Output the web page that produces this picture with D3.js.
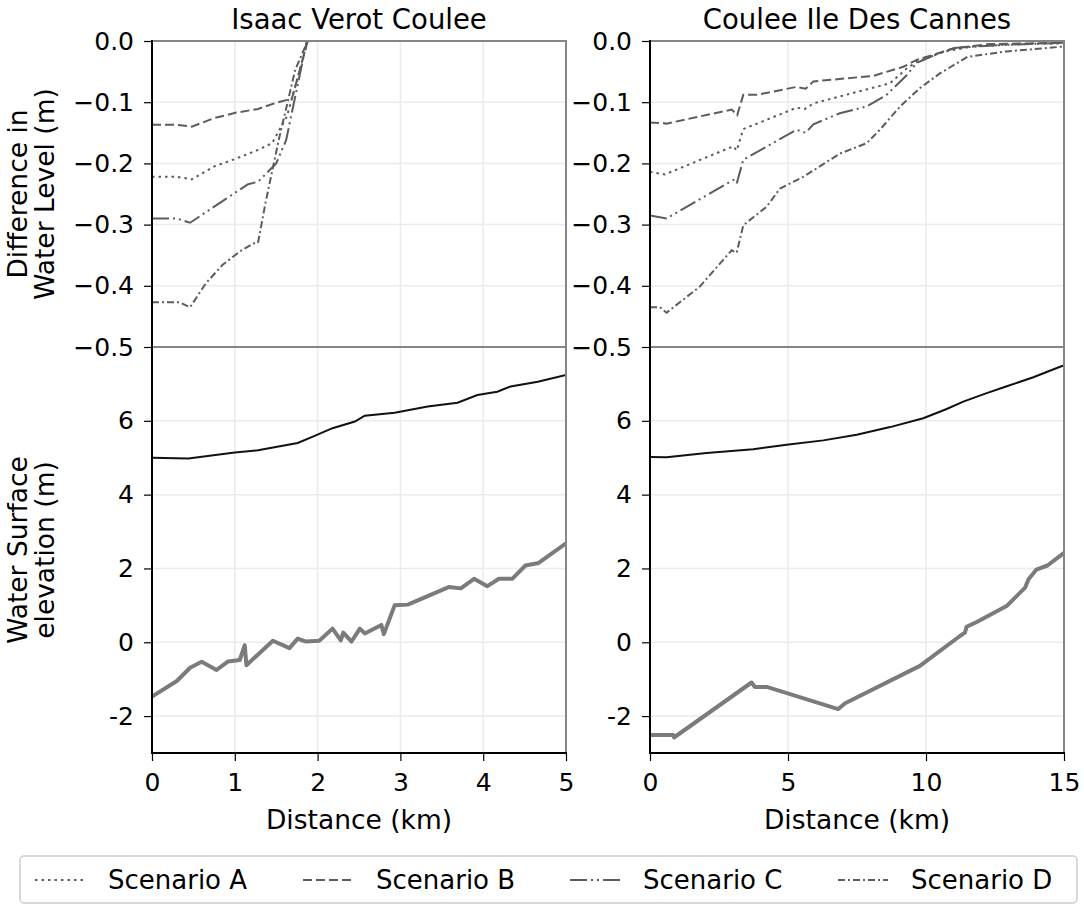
<!DOCTYPE html>
<html>
<head>
<meta charset="utf-8">
<script src="https://cdn.jsdelivr.net/npm/d3@7"></script>
<style>
    body { margin: 0; background: #fff; }
    text { font-family: "DejaVu Sans", sans-serif; fill: #000; }
</style>
</head>
<body>
<div id="chart"></div>
<script>
// panel titles and legend entries
const panelTitles = ["Isaac Verot Coulee", "Coulee Ile Des Cannes"];
const scenarioNames = ["Scenario A", "Scenario B", "Scenario C", "Scenario D"];

// tick values
const diffTicks = [0.0, -0.1, -0.2, -0.3, -0.4, -0.5];
const elevTicks = [-2, 0, 2, 4, 6];
const isaacDistTicks = [0, 1, 2, 3, 4, 5];
const canneDistTicks = [0, 5, 10, 15];

// Isaac Verot Coulee - difference in water level (distance km, metres)
const isaacDiffA = [[0, -0.222], [0.3, -0.222], [0.48, -0.226], [0.75, -0.205], [1.02, -0.192], [1.28, -0.178], [1.45, -0.167], [1.63, -0.123], [1.76, -0.06], [1.88, 0]];
const isaacDiffB = [[0, -0.137], [0.3, -0.137], [0.48, -0.140], [0.75, -0.126], [1.02, -0.117], [1.28, -0.111], [1.5, -0.101], [1.69, -0.094], [1.88, 0]];
const isaacDiffC = [[0, -0.290], [0.3, -0.290], [0.46, -0.297], [0.87, -0.260], [1.16, -0.234], [1.28, -0.230], [1.5, -0.200], [1.62, -0.162], [1.87, 0]];
const isaacDiffD = [[0, -0.427], [0.33, -0.427], [0.46, -0.435], [0.65, -0.396], [0.85, -0.366], [1.06, -0.344], [1.22, -0.331], [1.28, -0.330], [1.37, -0.265], [1.53, -0.162], [1.73, -0.047], [1.88, 0]];

// Coulee Ile Des Cannes - difference in water level
const canneDiffA = [[0, -0.214], [0.54, -0.218], [3.02, -0.172], [3.14, -0.179], [3.38, -0.144], [5.31, -0.109], [5.62, -0.111], [5.92, -0.102], [8.7, -0.069], [9.3, -0.045], [9.66, -0.034], [10.7, -0.017], [11.7, -0.009], [13.5, -0.005], [15, -0.004]];
const canneDiffB = [[0, -0.133], [0.6, -0.135], [2.96, -0.112], [3.16, -0.121], [3.38, -0.088], [3.86, -0.088], [5.31, -0.075], [5.64, -0.078], [5.92, -0.066], [8.09, -0.057], [9.18, -0.042], [9.66, -0.031], [11.0, -0.012], [12.3, -0.005], [15, -0.003]];
const canneDiffC = [[0, -0.285], [0.6, -0.290], [3.02, -0.227], [3.14, -0.233], [3.38, -0.194], [5.31, -0.145], [5.64, -0.150], [5.92, -0.136], [6.88, -0.118], [7.85, -0.107], [8.57, -0.088], [9.3, -0.056], [9.66, -0.036], [10.5, -0.019], [11.1, -0.011], [13.0, -0.006], [15, -0.003]];
const canneDiffD = [[0, -0.435], [0.36, -0.435], [0.6, -0.444], [1.81, -0.401], [2.96, -0.342], [3.14, -0.346], [3.38, -0.301], [4.22, -0.271], [4.71, -0.241], [5.55, -0.222], [6.88, -0.184], [7.85, -0.167], [8.33, -0.145], [9.06, -0.107], [9.78, -0.077], [10.5, -0.053], [11.5, -0.026], [12.9, -0.017], [15, -0.009]];

// water surface elevation and bed elevation (distance km, metres)
const isaacSurface = [[0, 5.0], [0.44, 4.98], [1.0, 5.14], [1.28, 5.2], [1.76, 5.4], [1.95, 5.58], [2.18, 5.8], [2.45, 5.98], [2.57, 6.14], [2.93, 6.22], [3.33, 6.39], [3.69, 6.49], [3.93, 6.7], [4.17, 6.79], [4.33, 6.93], [4.66, 7.06], [5.0, 7.24]];
const isaacBed = [[0, -1.47], [0.30, -1.05], [0.46, -0.69], [0.60, -0.53], [0.78, -0.75], [0.92, -0.52], [1.06, -0.48], [1.12, -0.08], [1.14, -0.62], [1.46, 0.04], [1.66, -0.16], [1.76, 0.10], [1.86, 0.02], [2.02, 0.04], [2.18, 0.37], [2.28, 0.05], [2.31, 0.26], [2.41, 0.02], [2.51, 0.37], [2.57, 0.24], [2.77, 0.47], [2.80, 0.22], [2.93, 1.0], [3.09, 1.02], [3.59, 1.5], [3.73, 1.46], [3.89, 1.72], [4.05, 1.52], [4.19, 1.72], [4.35, 1.72], [4.51, 2.08], [4.67, 2.15], [5.0, 2.68]];
const canneSurface = [[0, 5.02], [0.6, 5.01], [2.05, 5.13], [3.74, 5.23], [4.95, 5.35], [6.28, 5.47], [7.49, 5.62], [8.7, 5.83], [9.9, 6.07], [10.75, 6.32], [11.35, 6.52], [12.2, 6.75], [12.9, 6.93], [13.89, 7.18], [14.88, 7.47], [15, 7.5]];
const canneBed = [[0, -2.51], [0.84, -2.51], [0.87, -2.58], [3.68, -1.09], [3.80, -1.21], [4.23, -1.21], [6.82, -1.81], [7.07, -1.65], [9.78, -0.64], [11.23, 0.17], [11.41, 0.26], [11.47, 0.42], [11.84, 0.55], [12.92, 0.98], [13.59, 1.48], [13.71, 1.70], [14.0, 1.97], [14.4, 2.08], [15, 2.42]];

(function (d3) {
    "use strict";

    const width = 1084;
    const height = 911;

    const panelLeft = [152, 650];
    const panelWidth = 414;
    const topY = 41;
    const midY = 347;
    const bottomY = 753;

    const lineGrey = "#5c5c5c";
    const gridColor = "#ebebeb";
    const spineGrey = "#858585";
    const dashes = ["2.5,4", "9,4", "17,4,2,4,2,4", "7,3,2,3"];

    const tickFont = "25px";
    const labelFont = "26.5px";

    const svg = d3.select("#chart")
        .append("svg")
            .attr("width", width)
            .attr("height", height);

    const defs = svg.append("defs");

    const panels = [
        { title: panelTitles[0], xMax: 5, xTicks: isaacDistTicks, diff: [isaacDiffA, isaacDiffB, isaacDiffC, isaacDiffD], surface: isaacSurface, bed: isaacBed },
        { title: panelTitles[1], xMax: 15, xTicks: canneDistTicks, diff: [canneDiffA, canneDiffB, canneDiffC, canneDiffD], surface: canneSurface, bed: canneBed }
    ];

    const _grid = function (g, x, y, xTicks, yTicks, y0, y1) {
        g.selectAll(".vgrid").data(xTicks).enter()
            .append("line")
                .attr("x1", d => x(d)).attr("x2", d => x(d))
                .attr("y1", y0).attr("y2", y1)
                .attr("stroke", gridColor).attr("stroke-width", 1.5);
        g.selectAll(".hgrid").data(yTicks).enter()
            .append("line")
                .attr("x1", x.range()[0]).attr("x2", x.range()[1])
                .attr("y1", d => y(d)).attr("y2", d => y(d))
                .attr("stroke", gridColor).attr("stroke-width", 1.5);
    }

    const _styleAxis = function (g) {
        g.select(".domain").remove();
        g.selectAll(".tick line").attr("stroke", "#000").attr("stroke-width", 1.2);
        g.selectAll(".tick text").style("font-size", tickFont).style("font-family", "DejaVu Sans");
    }

    panels.forEach((p, i) => {
        const left = panelLeft[i];
        const right = left + panelWidth;

        const x = d3.scaleLinear().domain([0, p.xMax]).range([left, right]);
        const yDiff = d3.scaleLinear().domain([-0.5, 0]).range([midY, topY]);
        const yElev = d3.scaleLinear().domain([-3, 8]).range([bottomY, midY]);

        const clipTop = "clipTop" + i;
        const clipBottom = "clipBottom" + i;
        defs.append("clipPath").attr("id", clipTop)
            .append("rect").attr("x", left).attr("y", topY).attr("width", panelWidth).attr("height", midY - topY);
        defs.append("clipPath").attr("id", clipBottom)
            .append("rect").attr("x", left).attr("y", midY).attr("width", panelWidth).attr("height", bottomY - midY);

        const g = svg.append("g").attr("class", "panel-" + i);

        // grids
        _grid(g, x, yDiff, p.xTicks.slice(1, -1), diffTicks.slice(1, -1), topY, midY);
        _grid(g, x, yElev, p.xTicks.slice(1, -1), elevTicks, midY, bottomY);

        // scenario lines
        const diffLine = d3.line().x(d => x(d[0])).y(d => yDiff(d[1]));
        g.append("g").attr("clip-path", "url(#" + clipTop + ")")
            .selectAll("path")
            .data(p.diff)
            .enter()
            .append("path")
                .attr("d", d => diffLine(d))
                .attr("fill", "none")
                .attr("stroke", lineGrey)
                .attr("stroke-width", 2)
                .attr("stroke-dasharray", (d, k) => dashes[k]);

        // elevation lines
        const elevLine = d3.line().x(d => x(d[0])).y(d => yElev(d[1]));
        const elevGroup = g.append("g").attr("clip-path", "url(#" + clipBottom + ")");
        elevGroup.append("path")
            .attr("d", elevLine(p.bed))
            .attr("fill", "none")
            .attr("stroke", "#7b7b7b")
            .attr("stroke-width", 4)
            .attr("stroke-linejoin", "round");
        elevGroup.append("path")
            .attr("d", elevLine(p.surface))
            .attr("fill", "none")
            .attr("stroke", "#111")
            .attr("stroke-width", 2);

        // axes
        g.append("g")
            .attr("transform", "translate(" + left + ",0)")
            .call(d3.axisLeft(yDiff).tickValues(diffTicks).tickFormat(d3.format(".1f")).tickSize(8).tickPadding(10))
            .call(_styleAxis);
        g.append("g")
            .attr("transform", "translate(" + left + ",0)")
            .call(d3.axisLeft(yElev).tickValues(elevTicks).tickFormat(d => String(d)).tickSize(8).tickPadding(10))
            .call(_styleAxis);
        g.append("g")
            .attr("transform", "translate(0," + bottomY + ")")
            .call(d3.axisBottom(x).tickValues(p.xTicks).tickFormat(d3.format("d")).tickSize(8).tickPadding(12))
            .call(_styleAxis);

        // spines
        g.append("rect")
            .attr("x", left).attr("y", topY)
            .attr("width", panelWidth).attr("height", bottomY - topY)
            .attr("fill", "none").attr("stroke", spineGrey).attr("stroke-width", 2);
        g.append("line")
            .attr("x1", left).attr("x2", right).attr("y1", midY).attr("y2", midY)
            .attr("stroke", spineGrey).attr("stroke-width", 2);
        g.append("line")
            .attr("x1", left).attr("x2", left).attr("y1", topY - 1).attr("y2", bottomY + 1)
            .attr("stroke", "#000").attr("stroke-width", 2);
        g.append("line")
            .attr("x1", left).attr("x2", right + 1).attr("y1", bottomY).attr("y2", bottomY)
            .attr("stroke", "#000").attr("stroke-width", 2);

        // titles and labels
        g.append("text")
            .attr("x", (left + right) / 2).attr("y", 29)
            .attr("text-anchor", "middle")
            .style("font-size", "27.5px")
            .text(p.title);
        g.append("text")
            .attr("x", (left + right) / 2).attr("y", 829)
            .attr("text-anchor", "middle")
            .style("font-size", labelFont)
            .text("Distance (km)");
    });

    // y axis labels
    const _yLabel = function (lines, cy) {
        const t = svg.append("text")
            .attr("transform", "translate(27," + cy + ") rotate(-90)")
            .attr("text-anchor", "middle")
            .style("font-size", labelFont);
        lines.forEach((s, k) => {
            t.append("tspan").attr("x", 0).attr("y", k * 27).text(s);
        });
    }
    _yLabel(["Difference in", "Water Level (m)"], 194);
    _yLabel(["Water Surface", "elevation (m)"], 550);

    // legend
    const legend = svg.append("g").attr("class", "legend");
    legend.append("rect")
        .attr("x", 20).attr("y", 856)
        .attr("width", 1057).attr("height", 47)
        .attr("rx", 4)
        .attr("fill", "#fff").attr("stroke", "#cccccc").attr("stroke-width", 1.5);

    const legendX = [35, 303, 570, 838];
    const items = legend.selectAll(".legend-item")
        .data(scenarioNames)
        .enter()
        .append("g")
            .attr("class", "legend-item")
            .attr("transform", (d, k) => "translate(" + legendX[k] + ",880)");
    items.append("line")
        .attr("x1", 0).attr("x2", 50).attr("y1", 0).attr("y2", 0)
        .attr("stroke", lineGrey).attr("stroke-width", 2)
        .attr("stroke-dasharray", (d, k) => dashes[k]);
    items.append("text")
        .attr("x", 73).attr("y", 9)
        .style("font-size", "26px")
        .text(d => d);
})(d3);
</script>
</body>
</html>
